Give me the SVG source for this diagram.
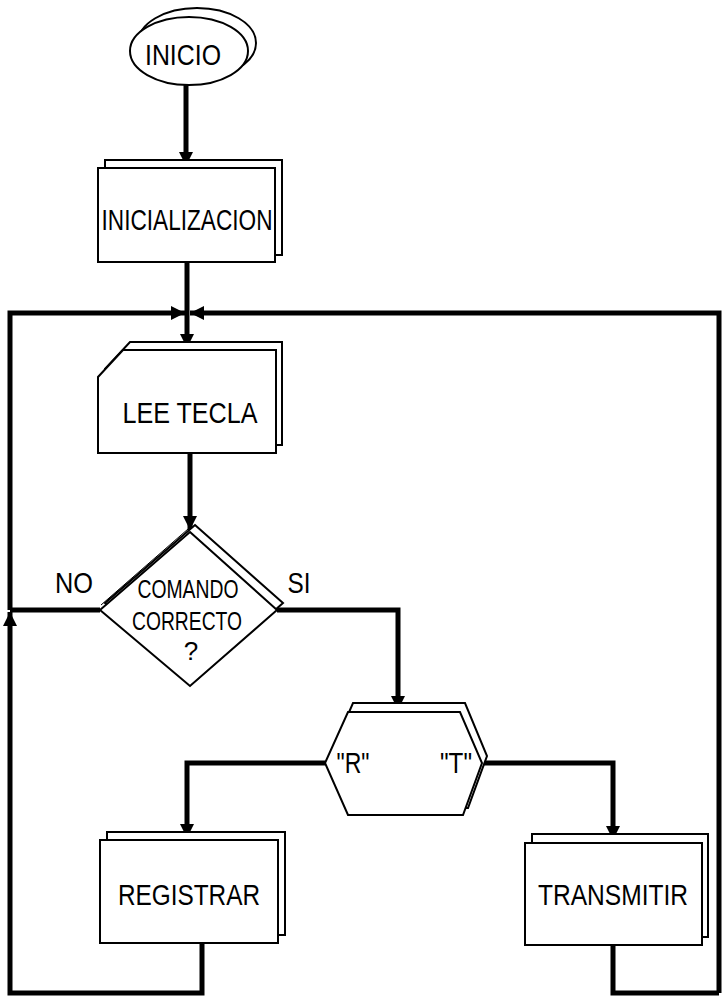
<svg xmlns="http://www.w3.org/2000/svg" width="722" height="999" viewBox="0 0 722 999">
<style>
.sh{fill:#fff;stroke:#000;stroke-width:2}
.fr{fill:#fff;stroke:#000;stroke-width:2}
.c{fill:none;stroke:#000;stroke-width:5;stroke-linejoin:miter}
.t{font-family:"Liberation Sans Narrow","Liberation Sans",Arial,sans-serif;font-size:30px;fill:#000;text-anchor:middle}
.s{font-size:26px}
</style>
<defs>
<marker id="ah" viewBox="0 0 10 10" refX="10" refY="5" markerWidth="2.8" markerHeight="2.8" orient="auto" markerUnits="strokeWidth">
<path d="M0,0 L10,5 L0,10 z" fill="#000"/>
</marker>
</defs>
<rect width="722" height="999" fill="#fff"/>
<g id="connectors">
<path class="c" d="M186,85 V166" marker-end="url(#ah)"/>
<path class="c" d="M187,262 V348" marker-end="url(#ah)"/>
<path class="c" d="M10,610 V313 H185" marker-end="url(#ah)"/>
<path class="c" d="M719,993 V313 H190" marker-end="url(#ah)"/>
<path class="c" d="M190,453 V530" marker-end="url(#ah)"/>
<path class="c" d="M100,610 H10"/>
<path class="c" d="M202,943 V993 H10 V612" marker-end="url(#ah)"/>
<path class="c" d="M277,610 H398 V710" marker-end="url(#ah)"/>
<path class="c" d="M325,763 H187 V838" marker-end="url(#ah)"/>
<path class="c" d="M482,763 H613 V840" marker-end="url(#ah)"/>
<path class="c" d="M613,945 V993 H719"/>
</g>
<g id="inicio">
<ellipse class="sh" cx="197" cy="43" rx="59" ry="35"/>
<ellipse class="fr" cx="189" cy="51" rx="59" ry="34"/>
<text class="t" x="183" y="65" textLength="76" lengthAdjust="spacingAndGlyphs">INICIO</text>
</g>
<g id="inicializacion">
<rect class="sh" x="105" y="160" width="177" height="95"/>
<rect class="fr" x="98" y="168" width="177" height="94"/>
<text class="t" x="187" y="230" textLength="171" lengthAdjust="spacingAndGlyphs">INICIALIZACION</text>
</g>
<g id="lee_tecla">
<path class="sh" d="M130,342 H282 V445 H105 V369 Z"/>
<path class="fr" d="M123,350 H276 V453 H98 V377 Z"/>
<text class="t" x="190" y="423" textLength="135" lengthAdjust="spacingAndGlyphs">LEE TECLA</text>
</g>
<g id="comando">
<path class="sh" d="M195,525 L283,603 L195,681 L105,603 Z"/>
<path class="fr" d="M190,532 L277,610 L190,686 L100,610 Z"/>
<path d="M188,529 L101,605" fill="none" stroke="#000" stroke-width="1"/>
<text class="t s" x="188" y="598" textLength="101" lengthAdjust="spacingAndGlyphs">COMANDO</text>
<text class="t s" x="187" y="630" textLength="110" lengthAdjust="spacingAndGlyphs">CORRECTO</text>
<text class="t s" x="191" y="660">?</text>
</g>
<g id="labels">
<text class="t" x="74" y="593" textLength="38" lengthAdjust="spacingAndGlyphs">NO</text>
<text class="t" x="299" y="593" textLength="23" lengthAdjust="spacingAndGlyphs">SI</text>
</g>
<g id="selector">
<path class="sh" d="M353,703 H465 L487,756 L468,808 H353 L330,756 Z"/>
<path class="fr" d="M348,712 H460 L482,763 L463,815 H348 L325,763 Z"/>
<text class="t" x="353" y="773" textLength="33" lengthAdjust="spacingAndGlyphs">"R"</text>
<text class="t" x="456" y="773" textLength="32" lengthAdjust="spacingAndGlyphs">"T"</text>
</g>
<g id="registrar">
<rect class="sh" x="107" y="832" width="178" height="103"/>
<rect class="fr" x="100" y="840" width="178" height="103"/>
<text class="t" x="189" y="905" textLength="142" lengthAdjust="spacingAndGlyphs">REGISTRAR</text>
</g>
<g id="transmitir">
<rect class="sh" x="532" y="834" width="176" height="103"/>
<rect class="fr" x="525" y="843" width="177" height="102"/>
<text class="t" x="613" y="905" textLength="150" lengthAdjust="spacingAndGlyphs">TRANSMITIR</text>
</g>
</svg>
